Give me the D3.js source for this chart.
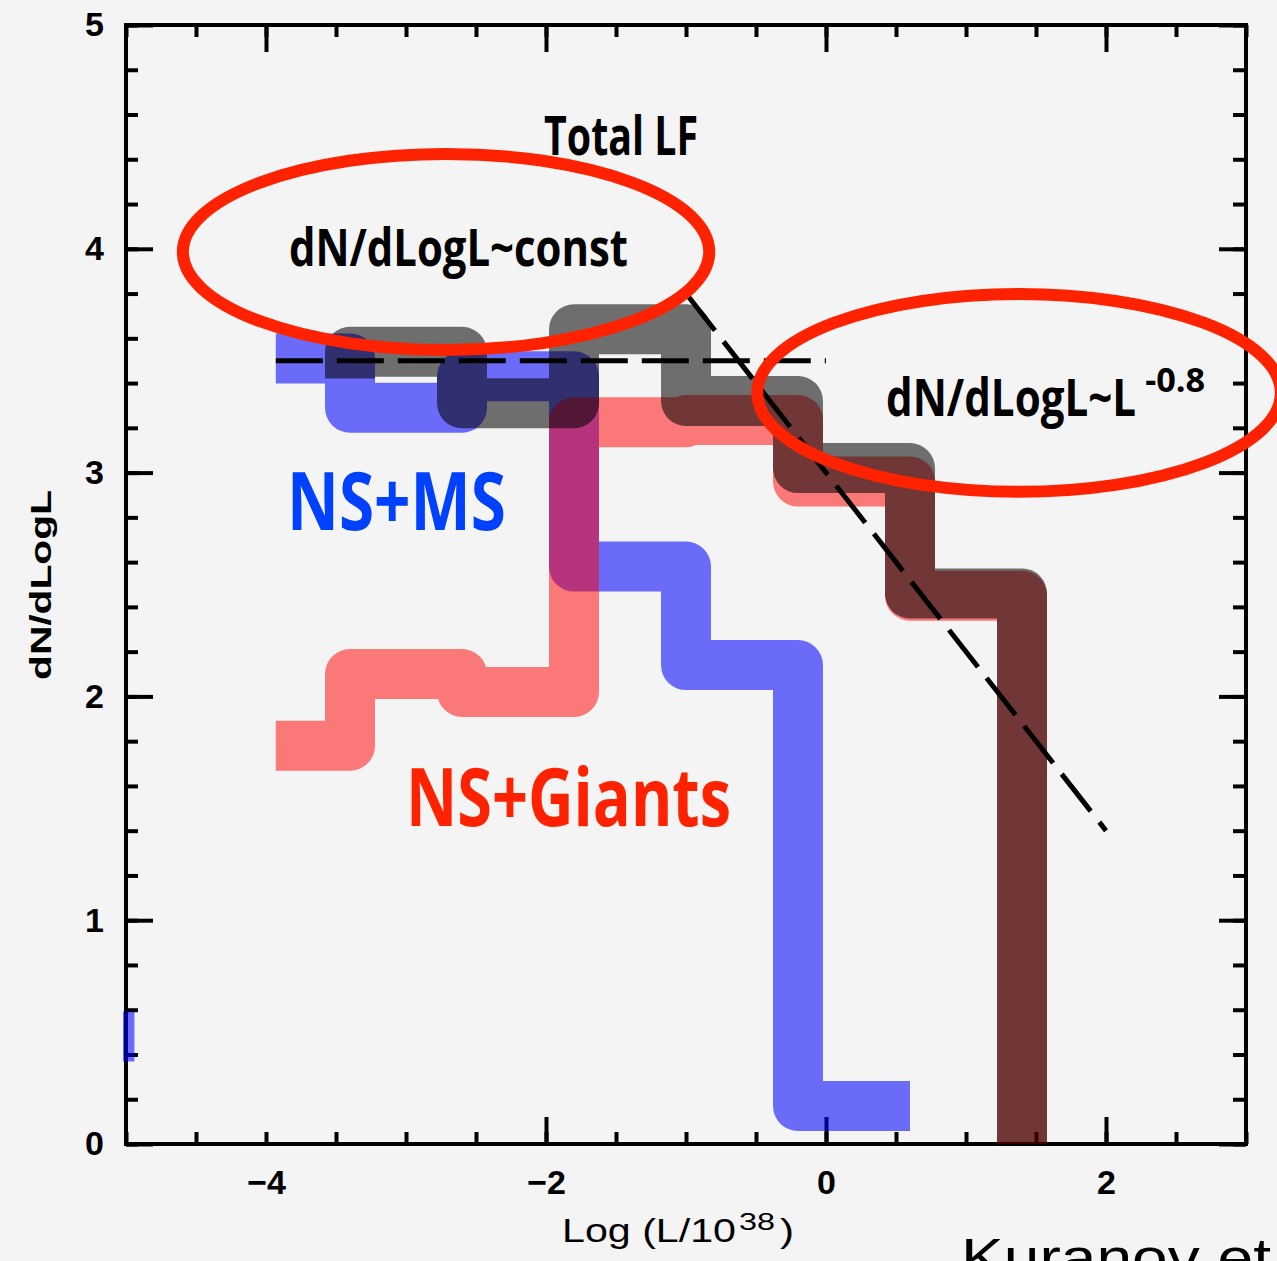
<!DOCTYPE html>
<html>
<head>
<meta charset="utf-8">
<script src="https://d3js.org/d3.v7.min.js"></script>
<style>
  body { margin: 0; background: #f4f4f4; }
  svg { display: block; }
</style>
</head>
<body>
<svg id="chart" width="1277" height="1261"></svg>
<script>
// bin edges shared by the step histograms, Log(L/1e38)
const binEdges = [-3.93, -3.4, -2.6, -1.8, -1.0, -0.2, 0.6, 1.4];

// NS+MS, one level per bin (bins 0..5)
const nsMsLevels = [3.51, 3.29, 3.43, 2.58, 2.14, 0.17];
// NS+Giants (bins 0..6), falls to 0 at the last edge
const nsGiantsLevels = [1.78, 2.10, 2.02, 3.225, 3.235, 2.96, 2.45];
// Total LF (bins 1..6), comes up from totalStart and falls to 0
const totalLevels = [3.54, 3.31, 3.64, 3.32, 3.02, 2.46];
const totalStart = 3.42;

// piece of an NS+MS step poking in at the left frame
const nsMsStub = [[-5.3, 0.48], [-4.94, 0.48]];

// fitted laws
const constLevel = 3.5;
const constRange = [-3.93, 0];
const powerIndex = -0.8;
const powerZero = 3.0;
const powerRange = [-1.0, 2.0];

// ticks
const xMinorTicks = d3.range(-5, 3.01, 0.5);
const xTopMajor = [-4, -2, 0, 2];
const xBottomMajor = [-2, 0, 2];
const xTickLabels = [-4, -2, 0, 2];
const yMinorTicks = d3.range(0, 5.001, 0.2);
const yMajorTicks = [0, 1, 2, 3, 4, 5];

const svg = d3.select("#chart");
const W = 1277, H = 1261;

const x = d3.scaleLinear().domain([-5, 3]).range([126, 1246]);
const y = d3.scaleLinear().domain([0, 5]).range([1144, 25]);

svg.append("rect").attr("width", W).attr("height", H).attr("fill", "#f4f4f4");

/** axes: ticks pointing inwards on all four sides */
function tickAxis(axis, tr, vals, size) {
    let g = svg.append("g")
        .attr("transform", tr)
        .call(axis.tickValues(vals).tickSize(-size).tickFormat(""));
    g.select(".domain").remove();
    g.selectAll(".tick line").attr("stroke", "#000").attr("stroke-width", 4);
    return g;
}

tickAxis(d3.axisBottom(x), "translate(0,1144)", xMinorTicks, 12);
tickAxis(d3.axisBottom(x), "translate(0,1144)", xBottomMajor, 27);
tickAxis(d3.axisTop(x), "translate(0,25)", xMinorTicks, 12);
tickAxis(d3.axisTop(x), "translate(0,25)", xTopMajor, 27);
tickAxis(d3.axisLeft(y), "translate(126,0)", yMinorTicks, 12);
tickAxis(d3.axisLeft(y), "translate(126,0)", yMajorTicks, 27);
tickAxis(d3.axisRight(y), "translate(1246,0)", yMinorTicks, 13);
tickAxis(d3.axisRight(y), "translate(1246,0)", yMajorTicks, 27);

// tick labels
let xl = svg.append("g").attr("transform", "translate(0,1144)")
    .call(d3.axisBottom(x).tickValues(xTickLabels).tickSize(0).tickPadding(26));
let yl = svg.append("g").attr("transform", "translate(126,0)")
    .call(d3.axisLeft(y).tickValues(yMajorTicks).tickSize(0).tickPadding(22).tickFormat(d3.format("d")));
[xl, yl].forEach(g => {
    g.select(".domain").remove();
    g.selectAll("text")
        .attr("font-family", "Liberation Sans, Arial, sans-serif")
        .attr("font-weight", "bold")
        .attr("font-size", 34)
        .attr("fill", "#000");
});

// frame
svg.append("rect")
    .attr("x", x(-5)).attr("y", y(5))
    .attr("width", x(3) - x(-5)).attr("height", y(0) - y(5))
    .attr("fill", "none").attr("stroke", "#000").attr("stroke-width", 4);

// axis titles
svg.append("text")
    .attr("transform", "translate(51,585) rotate(-90)")
    .attr("text-anchor", "middle")
    .attr("font-family", "Liberation Sans, Arial, sans-serif")
    .attr("font-weight", "bold")
    .attr("font-size", 29)
    .attr("textLength", 190)
    .attr("lengthAdjust", "spacingAndGlyphs")
    .text("dN/dLogL");

let xt = svg.append("g")
    .attr("font-family", "Liberation Sans, Arial, sans-serif")
    .attr("fill", "#000");
xt.append("text").attr("x", 562).attr("y", 1242).attr("font-size", 34)
    .attr("textLength", 174).attr("lengthAdjust", "spacingAndGlyphs").text("Log (L/10");
xt.append("text").attr("x", 739).attr("y", 1230).attr("font-size", 24)
    .attr("textLength", 36).attr("lengthAdjust", "spacingAndGlyphs").text("38");
xt.append("text").attr("x", 780).attr("y", 1242).attr("font-size", 34)
    .attr("textLength", 14).attr("lengthAdjust", "spacingAndGlyphs").text(")");

// citation, running off the bottom-right corner as in the slide
svg.append("text")
    .attr("x", 961).attr("y", 1276)
    .attr("font-family", "Liberation Sans, Arial, sans-serif")
    .attr("font-size", 54)
    .attr("textLength", 310)
    .attr("lengthAdjust", "spacingAndGlyphs")
    .text("Kuranov et");

// step histograms
function stepPoints(edges, levels, lead, tail) {
    let pts = [];
    if (lead != null) pts.push([edges[0], lead]);
    levels.forEach((v, i) => {
        pts.push([edges[i], v]);
        pts.push([edges[i + 1], v]);
    });
    if (tail != null) pts.push([edges[levels.length], tail]);
    return pts;
}

svg.append("clipPath").attr("id", "plotClip")
    .append("rect")
    .attr("x", x(-5) - 3).attr("y", y(5) - 3)
    .attr("width", x(3) - x(-5) + 6).attr("height", y(0) - y(5) + 6);

const line = d3.line().x(d => x(d[0])).y(d => y(d[1]));

const series = [
    {name: "NS+MS", pts: stepPoints(binEdges, nsMsLevels), color: "rgba(0,0,255,0.56)"},
    {name: "NS+MS stub", pts: nsMsStub, color: "rgba(0,0,255,0.56)"},
    {name: "NS+Giants", pts: stepPoints(binEdges, nsGiantsLevels, null, 0), color: "rgba(255,0,0,0.51)"},
    {name: "Total LF", pts: stepPoints(binEdges.slice(1), totalLevels, totalStart, 0), color: "rgba(0,0,0,0.55)"}
];

svg.append("g").attr("clip-path", "url(#plotClip)")
    .selectAll("path")
    .data(series)
    .join("path")
    .attr("d", d => line(d.pts))
    .attr("fill", "none")
    .attr("stroke", d => d.color)
    .attr("stroke-width", 50)
    .attr("stroke-linejoin", "round")
    .attr("stroke-linecap", "butt");

// dashed fits
const fits = [
    [[constRange[0], constLevel], [constRange[1], constLevel]],
    powerRange.map(v => [v, powerZero + powerIndex * v])
];
svg.append("g").selectAll("path")
    .data(fits)
    .join("path")
    .attr("d", d => line(d))
    .attr("fill", "none")
    .attr("stroke", "#000")
    .attr("stroke-width", 5)
    .attr("stroke-dasharray", "47,14");

// red ellipses marking the two regimes (centre and radii in data units)
const ovals = [
    {cx: -2.714, cy: 3.986, rx: 1.88, ry: 0.438},
    {cx: 1.379, cy: 3.356, rx: 1.87, ry: 0.442}
];
svg.append("g").selectAll("ellipse")
    .data(ovals)
    .join("ellipse")
    .attr("cx", d => x(d.cx))
    .attr("cy", d => y(d.cy))
    .attr("rx", d => x(d.cx + d.rx) - x(d.cx))
    .attr("ry", d => y(d.cy) - y(d.cy + d.ry))
    .attr("fill", "none")
    .attr("stroke", "#ff2200")
    .attr("stroke-width", 12);

// labels inside the plot: anchor (left, baseline) in data units
const notes = [
    {t: "Total LF", lx: -2.014, ly: 4.419, size: 54, w: 154, color: "#000"},
    {t: "dN/dLogL~const", lx: -3.836, ly: 3.923, size: 52, w: 339, color: "#000"},
    {t: "dN/dLogL~L", lx: 0.429, ly: 3.253, size: 52, w: 250, color: "#000"},
    {t: "-0.8", lx: 2.28, ly: 3.36, size: 34, w: 60, color: "#000"},
    {t: "NS+MS", lx: -3.85, ly: 2.744, size: 80, w: 219, color: "#0040ff"},
    {t: "NS+Giants", lx: -3.0, ly: 1.421, size: 80, w: 325, color: "#ff2200"}
];
svg.append("g").selectAll("text")
    .data(notes)
    .join("text")
    .attr("x", d => x(d.lx))
    .attr("y", d => y(d.ly))
    .attr("font-family", "Open Sans, Noto Sans, sans-serif")
    .attr("font-weight", 700)
    .attr("font-size", d => d.size)
    .attr("textLength", d => d.w)
    .attr("lengthAdjust", "spacingAndGlyphs")
    .attr("fill", d => d.color)
    .text(d => d.t);
</script>
</body>
</html>
